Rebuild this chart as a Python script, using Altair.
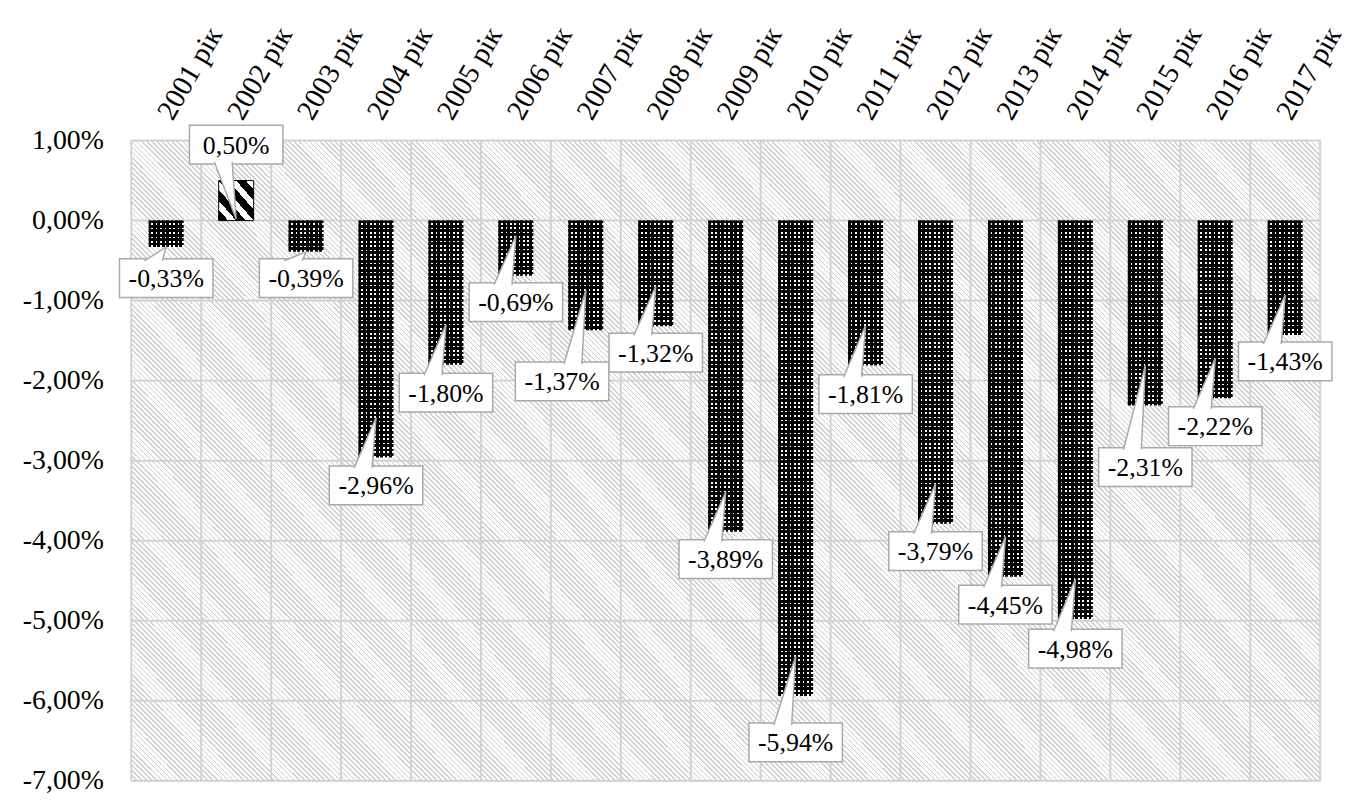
import json
import altair as alt
import pandas as pd

# ---------------- data ----------------
years = ["2001 рік", "2002 рік", "2003 рік", "2004 рік", "2005 рік", "2006 рік",
         "2007 рік", "2008 рік", "2009 рік", "2010 рік", "2011 рік", "2012 рік",
         "2013 рік", "2014 рік", "2015 рік", "2016 рік", "2017 рік"]
values = [-0.33, 0.50, -0.39, -2.96, -1.80, -0.69, -1.37, -1.32, -3.89,
          -5.94, -1.81, -3.79, -4.45, -4.98, -2.31, -2.22, -1.43]
# where each callout label sits (value units) and its horizontal shift (columns)
label_y = [-0.72, 0.95, -0.72, -3.31, -2.15, -1.02, -2.01, -1.65, -4.23,
           -6.52, -2.17, -4.13, -4.80, -5.35, -3.08, -2.57, -1.76]
label_dx = [0, 0, 0, 0, 0, 0, -0.34, 0, 0, 0, 0, 0, 0, 0, 0, 0, 0]
y_ticks = [-7, -6, -5, -4, -3, -2, -1, 0, 1]

# ---------------- layout ----------------
W, H = 1196, 644
N = len(years)
Y_MIN, Y_MAX = -7, 1
ux = N / W
uy = (Y_MAX - Y_MIN) / H
FONT = "Liberation Serif"
GRID = "#d2d2d2"
BOXSTROKE = "#a9a9a9"


def fmt(v):
    return f"{v:.2f}".replace(".", ",") + "%"


x_scale = alt.Scale(domain=[0, N], nice=False, zero=False)
y_scale = alt.Scale(domain=[Y_MIN, Y_MAX], nice=False, zero=False)

label_expr_x = json.dumps(years, ensure_ascii=False) + "[floor(datum.value)]"
x_axis = alt.Axis(orient="top", values=[i + 0.5 for i in range(N)], labelExpr=label_expr_x,
                  labelAngle=-60, labelAlign="left", labelBaseline="middle",
                  labelFont=FONT, labelFontSize=29, labelColor="black",
                  labelPadding=24, labelOffset=-2, labelOverlap=False, labelFlush=False,
                  labelBound=False, ticks=False, domain=False, grid=False, title=None)
y_axis = alt.Axis(orient="left", values=y_ticks,
                  labelExpr="replace(replace(format(datum.value, '.2f'), '.', ','), '\u2212', '-') + '%'",
                  labelFont=FONT, labelFontSize=28, labelColor="black", labelPadding=28,
                  labelOverlap=False, labelFlush=False, labelBound=False,
                  ticks=False, domain=False, grid=False, title=None)


def X(field):
    return alt.X(field, type="quantitative", scale=x_scale, axis=x_axis)


def Y(field):
    return alt.Y(field, type="quantitative", scale=y_scale, axis=y_axis)


# ---------------- stripe gradients ----------------
def stripes(n, c_line, c_bg, frac, x1, y1, x2, y2):
    stops = []
    for k in range(n):
        a = k / n
        b = (k + frac) / n
        c = (k + 1) / n
        stops += [{"offset": a, "color": c_line}, {"offset": b, "color": c_line},
                  {"offset": b, "color": c_bg}, {"offset": c, "color": c_bg}]
    return {"gradient": "linear", "stops": stops, "x1": x1, "y1": y1, "x2": x2, "y2": y2}


bg_df = pd.DataFrame({"x1": [0], "x2": [N], "y1": [Y_MIN], "y2": [Y_MAX]})
background = alt.Chart(bg_df).mark_rect(
    fill=stripes(360, "#d0d0d0", "#fcfcfc", 0.33, 0, 1, 1.192, 0.356), strokeWidth=0
).encode(x=X("x1"), x2="x2", y=Y("y1"), y2="y2")

# ---------------- grid ----------------
vgrid_df = pd.DataFrame({"gx": list(range(N + 1)), "y1": Y_MIN, "y2": Y_MAX})
vgrid = alt.Chart(vgrid_df).mark_rule(color=GRID, strokeWidth=2).encode(
    x=X("gx"), y=Y("y1"), y2="y2")
hgrid_df = pd.DataFrame({"gy": y_ticks, "x1": 0, "x2": N})
hgrid = alt.Chart(hgrid_df).mark_rule(color=GRID, strokeWidth=2).encode(
    y=Y("gy"), x=X("x1"), x2="x2")

# ---------------- bars ----------------
bar_df = pd.DataFrame({
    "idx": list(range(N)),
    "bx1": [i + 0.25 for i in range(N)],
    "bx2": [i + 0.75 for i in range(N)],
    "zero": [0.0] * N,
    "v": values,
})
neg_df = bar_df[bar_df["v"] < 0]
BAR_PX = 0.5 / ux
DOT = 4.4
CLEAR = "rgba(0,0,0,0)"

# white base, then black columns with white gaps, then black rows (per bar) with gaps -> white dots
neg_base = alt.Chart(neg_df).mark_rect(fill="white", strokeWidth=0).encode(
    x=X("bx1"), x2="bx2", y=Y("zero"), y2="v")
neg_cols = alt.Chart(neg_df).mark_rect(
    fill=stripes(max(1, round(BAR_PX / DOT)), "#000000", CLEAR, 0.62, 0, 0, 1, 0), strokeWidth=0
).encode(x=X("bx1"), x2="bx2", y=Y("zero"), y2="v")
row_layers = []
for _, r in neg_df.iterrows():
    hpx = abs(r["v"]) / uy
    nrows = max(1, round(hpx / DOT))
    row_layers.append(
        alt.Chart(neg_df[neg_df["idx"] == r["idx"]]).mark_rect(
            fill=stripes(nrows, "#000000", CLEAR, 0.62, 0, 0, 0, 1), strokeWidth=0
        ).encode(x=X("bx1"), x2="bx2", y=Y("zero"), y2="v")
    )

pos_bars = alt.Chart(bar_df[bar_df["v"] >= 0]).mark_rect(
    fill=stripes(4, "#000000", "#ffffff", 0.55, 0, 1, 1, 0), stroke="#000000", strokeWidth=1
).encode(x=X("bx1"), x2="bx2", y=Y("zero"), y2="v")

# ---------------- callouts ----------------
hw = 47 * ux
hh = 19.5 * uy
box_rows, tri_rows, txt_rows = [], [], []
for i, v in enumerate(values):
    cx = i + 0.5
    lx = cx + label_dx[i]
    ly = label_y[i]
    box_rows.append({"idx": i, "l": lx - hw, "r": lx + hw, "t": ly + hh, "b": ly - hh})
    txt_rows.append({"idx": i, "lx": lx, "ly": ly, "txt": fmt(v)})
    tip_x = cx
    if v < -0.45:
        tip_y = v + 0.5
    elif v > 0:
        tip_y = 0.02
    else:
        tip_y = v
    left = lx - hw + 5 * ux
    right = lx + hw - 5 * ux
    b1 = tip_x - 22 * ux
    b1 = min(max(b1, left), right - 18 * ux)
    b2 = b1 + 18 * ux
    if tip_y > ly:
        ey = ly + hh - 2 * uy
    else:
        ey = ly - hh + 2 * uy
    tri_rows += [{"idx": i, "k": 0, "px": b1, "py": ey},
                 {"idx": i, "k": 1, "px": tip_x, "py": tip_y},
                 {"idx": i, "k": 2, "px": b2, "py": ey}]

boxes = alt.Chart(pd.DataFrame(box_rows)).mark_rect(
    fill="white", stroke=BOXSTROKE, strokeWidth=1.5).encode(
    x=X("l"), x2="r", y=Y("b"), y2="t")
pointers = alt.Chart(pd.DataFrame(tri_rows)).mark_line(
    fill="white", stroke=BOXSTROKE, strokeWidth=1.5, strokeJoin="miter").encode(
    x=X("px"), y=Y("py"), detail="idx:N", order="k:Q")
texts = alt.Chart(pd.DataFrame(txt_rows)).mark_text(
    font=FONT, fontSize=26, color="black", align="center", baseline="middle", dy=1).encode(
    x=X("lx"), y=Y("ly"), text="txt:N")

chart = alt.layer(background, vgrid, hgrid, neg_base, neg_cols, *row_layers, pos_bars,
                  boxes, pointers, texts).properties(
    width=W, height=H,
    autosize=alt.AutoSizeParams(type="none"),
    padding={"left": 124, "top": 131, "right": 27, "bottom": 14},
).configure_view(stroke=None).configure(background="white")

chart.save("out.html", embed_options={"renderer": "svg", "actions": False})
